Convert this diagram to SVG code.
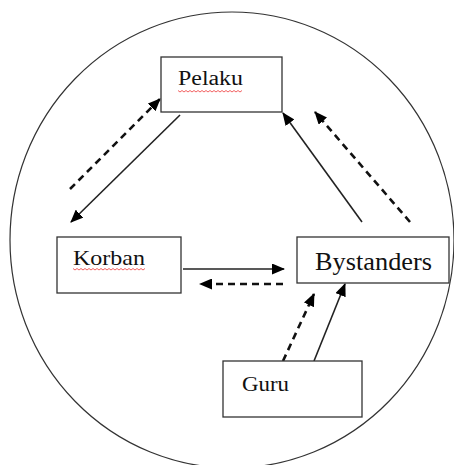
<svg xmlns="http://www.w3.org/2000/svg" width="454" height="465" viewBox="0 0 454 465">
<style>
.box{fill:#fff;stroke:#333;stroke-width:1.3}
.lbl{font-family:"Liberation Serif","Times New Roman",serif;fill:#111}
.solid{stroke:#222;stroke-width:1.6;fill:none}
.dash{stroke:#111;stroke-width:2.6;fill:none;stroke-dasharray:7 5}
.wave{stroke:#f05050;stroke-width:0.9;fill:none}
</style>
<defs>
<marker id="ah" viewBox="0 0 13 11" refX="12" refY="5.5" markerWidth="13" markerHeight="11" markerUnits="userSpaceOnUse" orient="auto">
<path d="M0,0 L13,5.5 L0,11 Z" fill="#000"/>
</marker>
</defs>
<ellipse cx="232" cy="240" rx="222" ry="228" fill="none" stroke="#333" stroke-width="1.2"/>
<g id="connectors">
<line class="solid" x1="180" y1="115" x2="71" y2="222" marker-end="url(#ah)"/>
<line class="dash" x1="70" y1="189" x2="160" y2="99" marker-end="url(#ah)"/>
<line class="solid" x1="362" y1="222" x2="283" y2="113" marker-end="url(#ah)"/>
<line class="dash" x1="410" y1="222" x2="315" y2="112" marker-end="url(#ah)"/>
<line class="solid" x1="183" y1="269" x2="284" y2="269" marker-end="url(#ah)"/>
<line class="dash" x1="283" y1="284" x2="200" y2="284" marker-end="url(#ah)"/>
<line class="dash" x1="283" y1="361" x2="314" y2="294" marker-end="url(#ah)"/>
<line class="solid" x1="314" y1="361" x2="345" y2="284" marker-end="url(#ah)"/>
</g>
<g id="pelaku">
<rect class="box" x="161" y="57" width="121" height="55"/>
<text class="lbl" x="178" y="85" font-size="20" textLength="65" lengthAdjust="spacingAndGlyphs">Pelaku</text>
<path class="wave" d="M178,90.5 l2,1.5 l2,-1.5 l2,1.5 l2,-1.5 l2,1.5 l2,-1.5 l2,1.5 l2,-1.5 l2,1.5 l2,-1.5 l2,1.5 l2,-1.5 l2,1.5 l2,-1.5 l2,1.5 l2,-1.5 l2,1.5 l2,-1.5 l2,1.5 l2,-1.5 l2,1.5 l2,-1.5 l2,1.5 l2,-1.5 l2,1.5 l2,-1.5 l2,1.5 l2,-1.5 l2,1.5 l2,-1.5 l2,1.5 l2,-1.5"/>
</g>
<g id="korban">
<rect class="box" x="57" y="237" width="124" height="56"/>
<text class="lbl" x="73" y="265" font-size="21" textLength="72" lengthAdjust="spacingAndGlyphs">Korban</text>
<path class="wave" d="M73,268.5 l2,1.5 l2,-1.5 l2,1.5 l2,-1.5 l2,1.5 l2,-1.5 l2,1.5 l2,-1.5 l2,1.5 l2,-1.5 l2,1.5 l2,-1.5 l2,1.5 l2,-1.5 l2,1.5 l2,-1.5 l2,1.5 l2,-1.5 l2,1.5 l2,-1.5 l2,1.5 l2,-1.5 l2,1.5 l2,-1.5 l2,1.5 l2,-1.5 l2,1.5 l2,-1.5 l2,1.5 l2,-1.5 l2,1.5 l2,-1.5 l2,1.5 l2,-1.5 l2,1.5 l2,-1.5"/>
</g>
<g id="bystanders">
<rect class="box" x="297" y="237" width="152" height="46"/>
<text class="lbl" x="315" y="270" font-size="25" textLength="117" lengthAdjust="spacingAndGlyphs">Bystanders</text>
</g>
<g id="guru">
<rect class="box" x="223" y="361" width="139" height="56"/>
<text class="lbl" x="242" y="391" font-size="21" textLength="47" lengthAdjust="spacingAndGlyphs">Guru</text>
</g>
</svg>
